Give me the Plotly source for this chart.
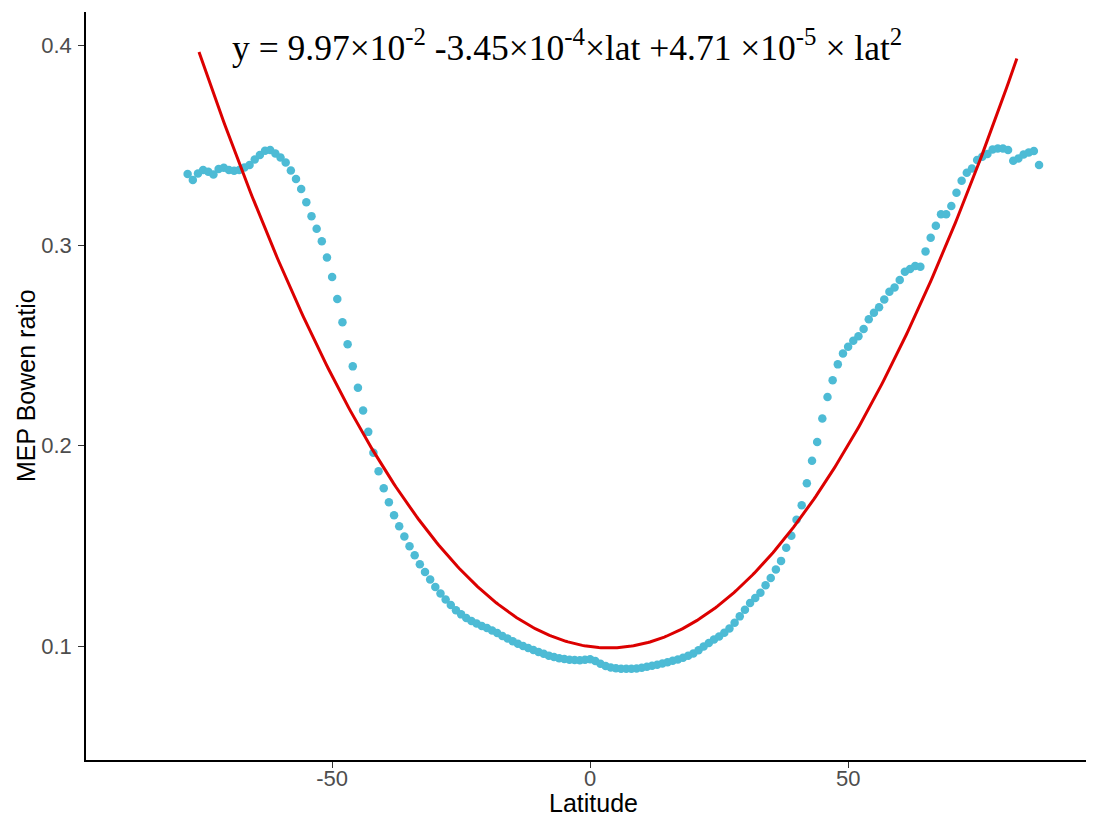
import plotly.graph_objects as go

# ---- data ----
latitude = list(range(-78, 88))
bowen_ratio = [
    0.3356, 0.3326, 0.3359, 0.3376, 0.3368, 0.3354, 0.3381, 0.3388, 0.3376, 0.3372,  # -78..-69
    0.3376, 0.3389, 0.3401, 0.3429, 0.3451, 0.3472, 0.3476, 0.3459, 0.3439, 0.3414,  # -68..-59
    0.3374, 0.3331, 0.3281, 0.3215, 0.3146, 0.3083, 0.3021, 0.2940, 0.2842, 0.2732,  # -58..-49
    0.2616, 0.2506, 0.2396, 0.2289, 0.2176, 0.2069, 0.1965, 0.1873, 0.1788, 0.1718,  # -48..-39
    0.1653, 0.1598, 0.1547, 0.1498, 0.1453, 0.1408, 0.1370, 0.1332, 0.1295, 0.1262,  # -38..-29
    0.1232, 0.1205, 0.1179, 0.1158, 0.1140, 0.1125, 0.1112, 0.1100, 0.1090, 0.1078,  # -28..-19
    0.1065, 0.1050, 0.1037, 0.1024, 0.1011, 0.1000, 0.0990, 0.0980, 0.0970, 0.0961,  # -18..-9
    0.0952, 0.0945, 0.0939, 0.0935, 0.0932, 0.0930, 0.0929, 0.0931, 0.0934, 0.0925,  # -8..1
    0.0912, 0.0900, 0.0893, 0.0889, 0.0887, 0.0886, 0.0886, 0.0888, 0.0892, 0.0896,  # 2..11
    0.0902, 0.0907, 0.0913, 0.0919, 0.0926, 0.0933, 0.0941, 0.0951, 0.0963, 0.0979,  # 12..21
    0.0998, 0.1015, 0.1033, 0.1048, 0.1066, 0.1088, 0.1116, 0.1148, 0.1181, 0.1215,  # 22..31
    0.1240, 0.1266, 0.1303, 0.1340, 0.1382, 0.1425, 0.1490, 0.1550, 0.1630, 0.1703,  # 32..41
    0.1812, 0.1925, 0.2019, 0.2136, 0.2243, 0.2327, 0.2406, 0.2460, 0.2494, 0.2524,  # 42..51
    0.2546, 0.2583, 0.2631, 0.2664, 0.2691, 0.2730, 0.2768, 0.2790, 0.2827, 0.2868,  # 52..61
    0.2882, 0.2897, 0.2893, 0.2970, 0.3038, 0.3098, 0.3155, 0.3155, 0.3196, 0.3263,  # 62..71
    0.3323, 0.3362, 0.3384, 0.3426, 0.3442, 0.3456, 0.3479, 0.3484, 0.3484, 0.3476,  # 72..81
    0.3422, 0.3434, 0.3454, 0.3464, 0.3471, 0.3401,                                  # 82..87
]

# fitted quadratic shown in the equation
fit_coef = [9.97e-2, -3.45e-4, 4.71e-5]
fit_lat_range = [-75.8, 82.7]

x_ticks = [-50, 0, 50]
y_ticks = [0.1, 0.2, 0.3, 0.4]
y_tick_labels = ["0.1", "0.2", "0.3", "0.4"]

# ---- build figure ----
n = 400
fit_x = [fit_lat_range[0] + (fit_lat_range[1] - fit_lat_range[0]) * i / (n - 1) for i in range(n)]
fit_y = [fit_coef[0] + fit_coef[1] * v + fit_coef[2] * v * v for v in fit_x]

fig = go.Figure()
fig.add_trace(go.Scatter(
    x=latitude, y=bowen_ratio, mode="markers",
    marker=dict(color="#4DBBD5", size=8.5, line=dict(width=0)),
    showlegend=False, hoverinfo="x+y",
))
fig.add_trace(go.Scatter(
    x=fit_x, y=fit_y, mode="lines",
    line=dict(color="#DC0000", width=3),
    showlegend=False, hoverinfo="skip",
))

fig.add_annotation(
    x=0.4805, y=0.955, xref="paper", yref="paper", xanchor="center", yanchor="middle",
    text="y = 9.97×10<sup>-2</sup> -3.45×10<sup>-4</sup>×lat +4.71 ×10<sup>-5</sup> × lat<sup>2</sup>",
    showarrow=False,
    font=dict(family="Liberation Serif, Times New Roman, serif", size=35.5, color="black"),
)

title_font = dict(family="Liberation Sans, Arial, sans-serif", size=25, color="black")
fig.add_annotation(
    x=0.507, y=-0.058, xref="paper", yref="paper", xanchor="center", yanchor="middle",
    text="Latitude", showarrow=False, font=title_font,
)
fig.add_annotation(
    x=-0.060, y=0.5, xref="paper", yref="paper", xanchor="center", yanchor="middle",
    text="MEP Bowen ratio", textangle=-90, showarrow=False, font=title_font,
)

axis_common = dict(
    showgrid=False, zeroline=False,
    showline=True, linecolor="black", linewidth=1.6,
    ticks="outside", ticklen=6, tickwidth=1.1, tickcolor="#333333",
    tickfont=dict(family="Liberation Sans, Arial, sans-serif", size=22, color="#4D4D4D"),
)

fig.update_xaxes(
    range=[-97.7, 96.1], tickvals=x_ticks, ticktext=[str(t) for t in x_ticks],
    ticklabelstandoff=-8, **axis_common,
)
fig.update_yaxes(
    range=[0.0431, 0.4165], tickvals=y_ticks, ticktext=y_tick_labels,
    ticklabelstandoff=2, **axis_common,
)

# page body adds an 8px margin; size the figure to fit inside the window
fig.update_layout(
    width=1078, height=810,
    margin=dict(l=78, r=0, t=4, b=58),
    plot_bgcolor="white", paper_bgcolor="white",
)

fig.write_html("out.html")
